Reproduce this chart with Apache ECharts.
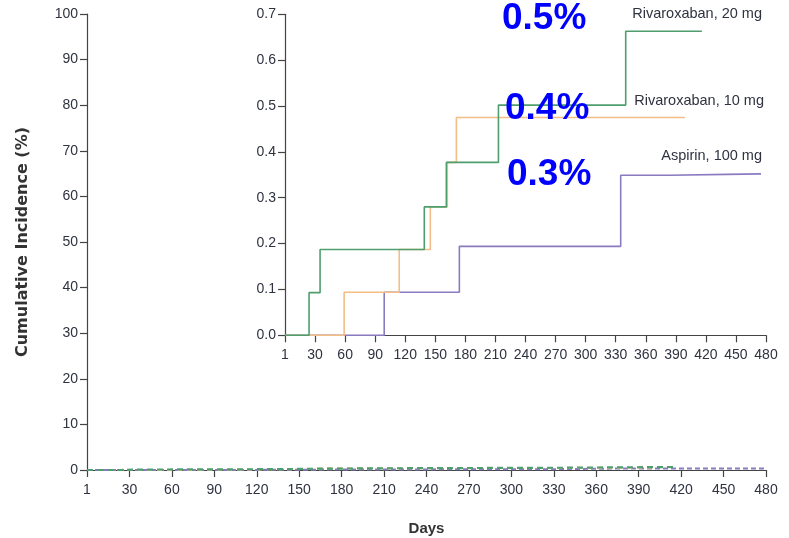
<!DOCTYPE html>
<html>
<head>
<meta charset="utf-8">
<style>
  html, body { margin: 0; padding: 0; background: #ffffff; }
  #chart { width: 789px; height: 538px; }
</style>
<script src="https://cdn.jsdelivr.net/npm/echarts@6/dist/echarts.min.js"></script>
</head>
<body>
<div id="chart"></div>
<script>
// Cumulative incidence (%) by day: [day of step, new cumulative value]
const riva20 = [[0, 0], [24, 0.093], [35, 0.187], [139, 0.28], [161, 0.377], [213, 0.502], [340, 0.663], [416, 0.663]];
const riva10 = [[0, 0], [59, 0.094], [114, 0.187], [145, 0.28], [162, 0.377], [171, 0.475], [399, 0.475]];
const aspirin = [[0, 0], [99, 0.094], [174, 0.194], [335, 0.349], [384, 0.351], [441, 0.352], [475, 0.352]];
const aspirinFull = aspirin.concat([[480, 0.352]]);

const seriesNames = ['Rivaroxaban, 20 mg', 'Rivaroxaban, 10 mg', 'Aspirin, 100 mg'];
const rateLabels = ['0.5%', '0.4%', '0.3%'];

const mainYTicks = [0, 10, 20, 30, 40, 50, 60, 70, 80, 90, 100];
const insetYTicks = [0, 0.1, 0.2, 0.3, 0.4, 0.5, 0.6, 0.7];

const GREEN = '#4f9e6e';
const ORANGE = '#f4bd86';
const PURPLE = '#8a7bc0';
const AXIS = '#444';
const TEXT = '#2f3340';
const SANS = '"Liberation Sans", Arial, sans-serif';

// first day tick is labelled "1"
const dayLabel = v => (v === 0 ? '1' : String(v));

function xAxisCfg(gridIndex) {
  return {
    type: 'value', gridIndex, min: 0, max: 480, interval: 30,
    axisLine: { show: true, onZero: false, lineStyle: { color: AXIS, width: 1.2 } },
    axisTick: { show: true, length: 7, lineStyle: { color: AXIS, width: 1.2 } },
    axisLabel: { formatter: dayLabel, color: TEXT, fontFamily: SANS, fontSize: 14, margin: 13 },
    splitLine: { show: false }
  };
}

function yAxisCfg(gridIndex, ticks, step, fmt) {
  return {
    type: 'value', gridIndex, min: ticks[0], max: ticks[ticks.length - 1], interval: step,
    axisLine: { show: true, lineStyle: { color: AXIS, width: 1.2 } },
    axisTick: { show: true, length: 7, lineStyle: { color: AXIS, width: 1.2 } },
    axisLabel: { color: TEXT, fontFamily: SANS, fontSize: 14, margin: 9, formatter: fmt },
    splitLine: { show: false }
  };
}

const chart = echarts.init(document.getElementById('chart'), null, { renderer: 'canvas' });

chart.setOption({
  animation: false,
  backgroundColor: '#ffffff',
  grid: [
    { left: 87, top: 14, right: 23, bottom: 68, outerBoundsMode: 'none', containLabel: false },
    { left: 285, top: 14.3, right: 23, bottom: 202.7, outerBoundsMode: 'none', containLabel: false }
  ],
  xAxis: [
    Object.assign(xAxisCfg(0), {
      name: 'Days', nameLocation: 'middle', nameGap: 51,
      nameTextStyle: { color: '#333', fontFamily: SANS, fontWeight: 'bold', fontSize: 15 }
    }),
    xAxisCfg(1)
  ],
  yAxis: [
    Object.assign(yAxisCfg(0, mainYTicks, 10, v => String(v)), {
      name: 'Cumulative Incidence (%)', nameLocation: 'middle', nameGap: 56, nameRotate: 90,
      nameTextStyle: { color: '#333', fontFamily: 'DejaVu Sans, sans-serif', fontWeight: 'bold', fontSize: 16 }
    }),
    yAxisCfg(1, insetYTicks, 0.1, v => v.toFixed(1))
  ],
  series: [
    // full-scale curves (0–100 %), dashed, hugging the baseline
    { type: 'line', name: seriesNames[2], xAxisIndex: 0, yAxisIndex: 0, step: 'end', data: aspirinFull, symbol: 'none',
      lineStyle: { color: PURPLE, width: 2, type: [5, 3] }, z: 3 },
    { type: 'line', name: seriesNames[1], xAxisIndex: 0, yAxisIndex: 0, step: 'end', data: riva10, symbol: 'none',
      lineStyle: { color: ORANGE, width: 2, type: [5, 5] }, z: 4 },
    { type: 'line', name: seriesNames[0], xAxisIndex: 0, yAxisIndex: 0, step: 'end', data: riva20, symbol: 'none',
      lineStyle: { color: GREEN, width: 2.2, type: [6, 4] }, z: 5 },
    // zoomed curves (0–0.7 %)
    { type: 'line', name: seriesNames[2], xAxisIndex: 1, yAxisIndex: 1, step: 'end', data: aspirin, symbol: 'none',
      lineStyle: { color: PURPLE, width: 1.6 }, z: 6 },
    { type: 'line', name: seriesNames[1], xAxisIndex: 1, yAxisIndex: 1, step: 'end', data: riva10, symbol: 'none',
      lineStyle: { color: ORANGE, width: 1.6 }, z: 7 },
    { type: 'line', name: seriesNames[0], xAxisIndex: 1, yAxisIndex: 1, step: 'end', data: riva20, symbol: 'none',
      lineStyle: { color: GREEN, width: 1.6 }, z: 8 }
  ],
  graphic: [
    { type: 'text', x: 762, y: 14, z: 20, style: { text: seriesNames[0], align: 'right', verticalAlign: 'middle',
        fill: TEXT, font: '14.5px ' + SANS } },
    { type: 'text', x: 764, y: 101, z: 20, style: { text: seriesNames[1], align: 'right', verticalAlign: 'middle',
        fill: TEXT, font: '14.5px ' + SANS } },
    { type: 'text', x: 762, y: 156, z: 20, style: { text: seriesNames[2], align: 'right', verticalAlign: 'middle',
        fill: TEXT, font: '14.5px ' + SANS } },
    { type: 'text', x: 502, y: 19, z: 21, style: { text: rateLabels[0], align: 'left', verticalAlign: 'middle',
        fill: '#0000ff', font: 'bold 37px ' + SANS } },
    { type: 'text', x: 505, y: 109, z: 21, style: { text: rateLabels[1], align: 'left', verticalAlign: 'middle',
        fill: '#0000ff', font: 'bold 37px ' + SANS } },
    { type: 'text', x: 507, y: 175, z: 21, style: { text: rateLabels[2], align: 'left', verticalAlign: 'middle',
        fill: '#0000ff', font: 'bold 37px ' + SANS } }
  ]
});
</script>
</body>
</html>
